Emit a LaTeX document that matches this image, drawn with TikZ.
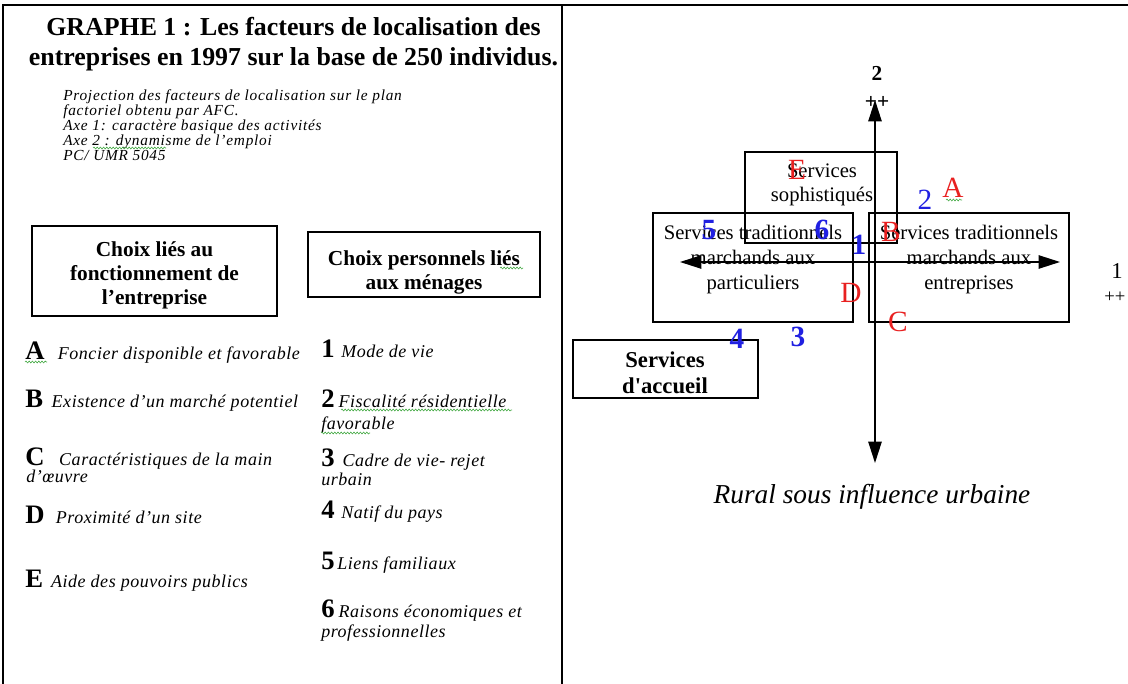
\documentclass[tikz,border=0pt]{standalone}
\usepackage{fontspec}
\setmainfont{Liberation Serif}
\newfontfamily\notefont[LetterSpace=5]{Liberation Serif}
\newfontfamily\listfont[LetterSpace=3]{Liberation Serif}
\usetikzlibrary{arrows.meta,decorations.pathmorphing}
\definecolor{redl}{RGB}{232,32,32}
\definecolor{bluel}{RGB}{32,32,225}
\definecolor{squig}{RGB}{70,170,70}
\tikzset{
  frameline/.style={line width=1.1pt},
  boxr/.style={draw, line width=0.9pt, inner sep=0pt},
  txt/.style={inner sep=0pt, align=center},
  axisline/.style={line width=1.1pt, {Triangle[length=16pt,width=10pt]}-{Triangle[length=16pt,width=10pt]}},
  redlab/.style={inner sep=0pt, text=redl, font=\fontsize{22}{22}\selectfont},
  bluelab/.style={inner sep=0pt, text=bluel, font=\fontsize{22}{22}\selectfont\bfseries},
  item/.style={inner sep=0pt, anchor=base west},
  squiggle/.style={draw=squig, line width=0.45pt, decorate, decoration={snake, amplitude=0.7pt, segment length=2.4pt}},
}
\newcommand{\bigletter}[1]{{\fontsize{20}{20}\selectfont\bfseries #1}}
\newcommand{\itm}[1]{{\listfont\itshape\fontsize{13.5}{15}\selectfont #1}}
\newcommand{\tightlines}{\lineskiplimit=-20pt\relax\lineskip=0pt\relax}
\begin{document}
\begin{tikzpicture}[x=0.75pt,y=-0.75pt]
\useasboundingbox (0,0) rectangle (1128,684);
% frame
\draw[frameline] (3,684) -- (3,5) -- (1128,5);
\draw[frameline] (562,5) -- (562,684);

% title
\node[txt, font=\fontsize{19.4}{22}\selectfont\bfseries] (title) at (293.5,44)
  {GRAPHE 1 : Les facteurs de localisation des\\entreprises en 1997 sur la base de 250 individus.};

% notes
\node[inner sep=0pt, anchor=north west, align=left,
      font=\notefont\itshape\fontsize{11.5}{11.4}\selectfont\tightlines] (notes) at (63,89)
  {Projection des facteurs de localisation sur le plan\\
   factoriel obtenu par AFC.\\
   Axe 1: caractère basique des activités\\
   Axe 2 : dynamisme de l’emploi\\
   PC/ UMR 5045};
\draw[squiggle] (93,148) -- (166,148);

% headings
\node[boxr, minimum width=245*0.75pt, minimum height=90*0.75pt] (box1) at (154.5,271) {};
\node[txt, font=\fontsize{16}{18}\selectfont\bfseries] (box1t) at (154.5,275)
  {Choix liés au\\fonctionnement de\\l’entreprise};
\node[boxr, minimum width=232*0.75pt, minimum height=65*0.75pt] (box2) at (424,264.5) {};
\node[txt, font=\fontsize{16}{18}\selectfont\bfseries] (box2t) at (424,272)
  {Choix personnels liés\\aux ménages};
\draw[squiggle] (500,268) -- (523,268);

% left list
\node[item] (iA) at (25,359) {\bigletter{A}\hspace{10pt}\itm{Foncier disponible et favorable}};
\draw[squiggle] (25,362) -- (47,362);
\node[item] (iB) at (25,407) {\bigletter{B}\hspace{6.5pt}\itm{Existence d’un marché potentiel}};
\node[item] (iC) at (25,465) {\bigletter{C}\hspace{11pt}\itm{Caractéristiques de la main}};
\node[item] (iC2) at (26,482) {\itm{d’œuvre}};
\node[item] (iD) at (25,523) {\bigletter{D}\hspace{8.5pt}\itm{Proximité d’un site}};
\node[item] (iE) at (25,587) {\bigletter{E}\hspace{6pt}\itm{Aide des pouvoirs publics}};

% right list
\node[item] (i1) at (321,358) {\bigletter{1}\hspace{5pt}\itm{Mode de vie}};
\node[item] (i2) at (321,407) {\bigletter{2}\hspace{3pt}\itm{Fiscalité résidentielle}};
\draw[squiggle] (341,410) -- (512,410);
\node[item] (i2b) at (321,429) {\itm{favorable}};
\draw[squiggle] (321,433) -- (370,433);
\node[item] (i3) at (321,466) {\bigletter{3}\hspace{6pt}\itm{Cadre de vie- rejet}};
\node[item] (i3b) at (321,485) {\itm{urbain}};
\node[item] (i4) at (321,518) {\bigletter{4}\hspace{5pt}\itm{Natif du pays}};
\node[item] (i5) at (321,569) {\bigletter{5}\hspace{2pt}\itm{Liens familiaux}};
\node[item] (i6) at (321,617) {\bigletter{6}\hspace{3pt}\itm{Raisons économiques et}};
\node[item] (i6b) at (321,637) {\itm{professionnelles}};

% ===== right panel =====
\node[boxr, minimum width=152*0.75pt, minimum height=91*0.75pt] (soph) at (821,197.5) {};
\node[txt, font=\fontsize{15.5}{18.5}\selectfont] (sopht) at (822,185) {Services\\sophistiqués};
\node[boxr, minimum width=200*0.75pt, minimum height=109*0.75pt] (tradp) at (753,267.5) {};
\node[txt, font=\fontsize{15.5}{18.75}\selectfont] (tradpt) at (753,260) {Services traditionnels\\marchands aux\\particuliers};
\node[boxr, minimum width=200*0.75pt, minimum height=109*0.75pt] (trade) at (969,267.5) {};
\node[txt, font=\fontsize{15.5}{18.75}\selectfont] (tradet) at (969,260) {Services traditionnels\\marchands aux\\entreprises};
\node[boxr, minimum width=185*0.75pt, minimum height=58*0.75pt] (acc) at (665.5,369) {};
\node[txt, font=\fontsize{17}{19.5}\selectfont\bfseries\addfontfeatures{Ligatures=TeXOff}] (acct) at (665,373) {Services\\d'accueil};

% axes
\coordinate (vtop) at (875,100);
\coordinate (vbot) at (875,463);
\coordinate (hleft) at (680,262);
\coordinate (hright) at (1060,262);
\draw[axisline] (vbot) -- (vtop);
\draw[axisline] (hleft) -- (hright);
\node[inner sep=0pt, font=\fontsize{16}{16}\selectfont\bfseries] (ax2) at (877,73) {2};
\node[inner sep=0pt, font=\fontsize{16}{16}\selectfont\bfseries] (ax2p) at (877,102) {++};
\node[inner sep=0pt, font=\fontsize{17}{17}\selectfont] (ax1) at (1117,271) {1};
\node[inner sep=0pt, anchor=west, font=\fontsize{14}{14}\selectfont] (ax1p) at (1104,297) {++};

% factor labels
\node[redlab] (lE) at (797,170) {E};
\node[redlab] (lA) at (953,188) {A};
\draw[squiggle] (946,200) -- (962,200);
\node[redlab] (lB) at (891,232) {B};
\node[redlab] (lD) at (851,293) {D};
\node[redlab] (lC) at (898,322) {C};
\node[bluelab, font=\fontsize{22}{22}\selectfont] (n2) at (925,200) {2};
\node[bluelab] (n5) at (709,230) {5};
\node[bluelab] (n6) at (822,230) {6};
\node[bluelab] (n1) at (859,245) {1};
\node[bluelab] (n4) at (737,339) {4};
\node[bluelab] (n3) at (798,337) {3};

\node[inner sep=0pt, font=\itshape\fontsize{20.5}{20.5}\selectfont] (rural) at (872,497) {Rural sous influence urbaine};
\end{tikzpicture}
\end{document}
